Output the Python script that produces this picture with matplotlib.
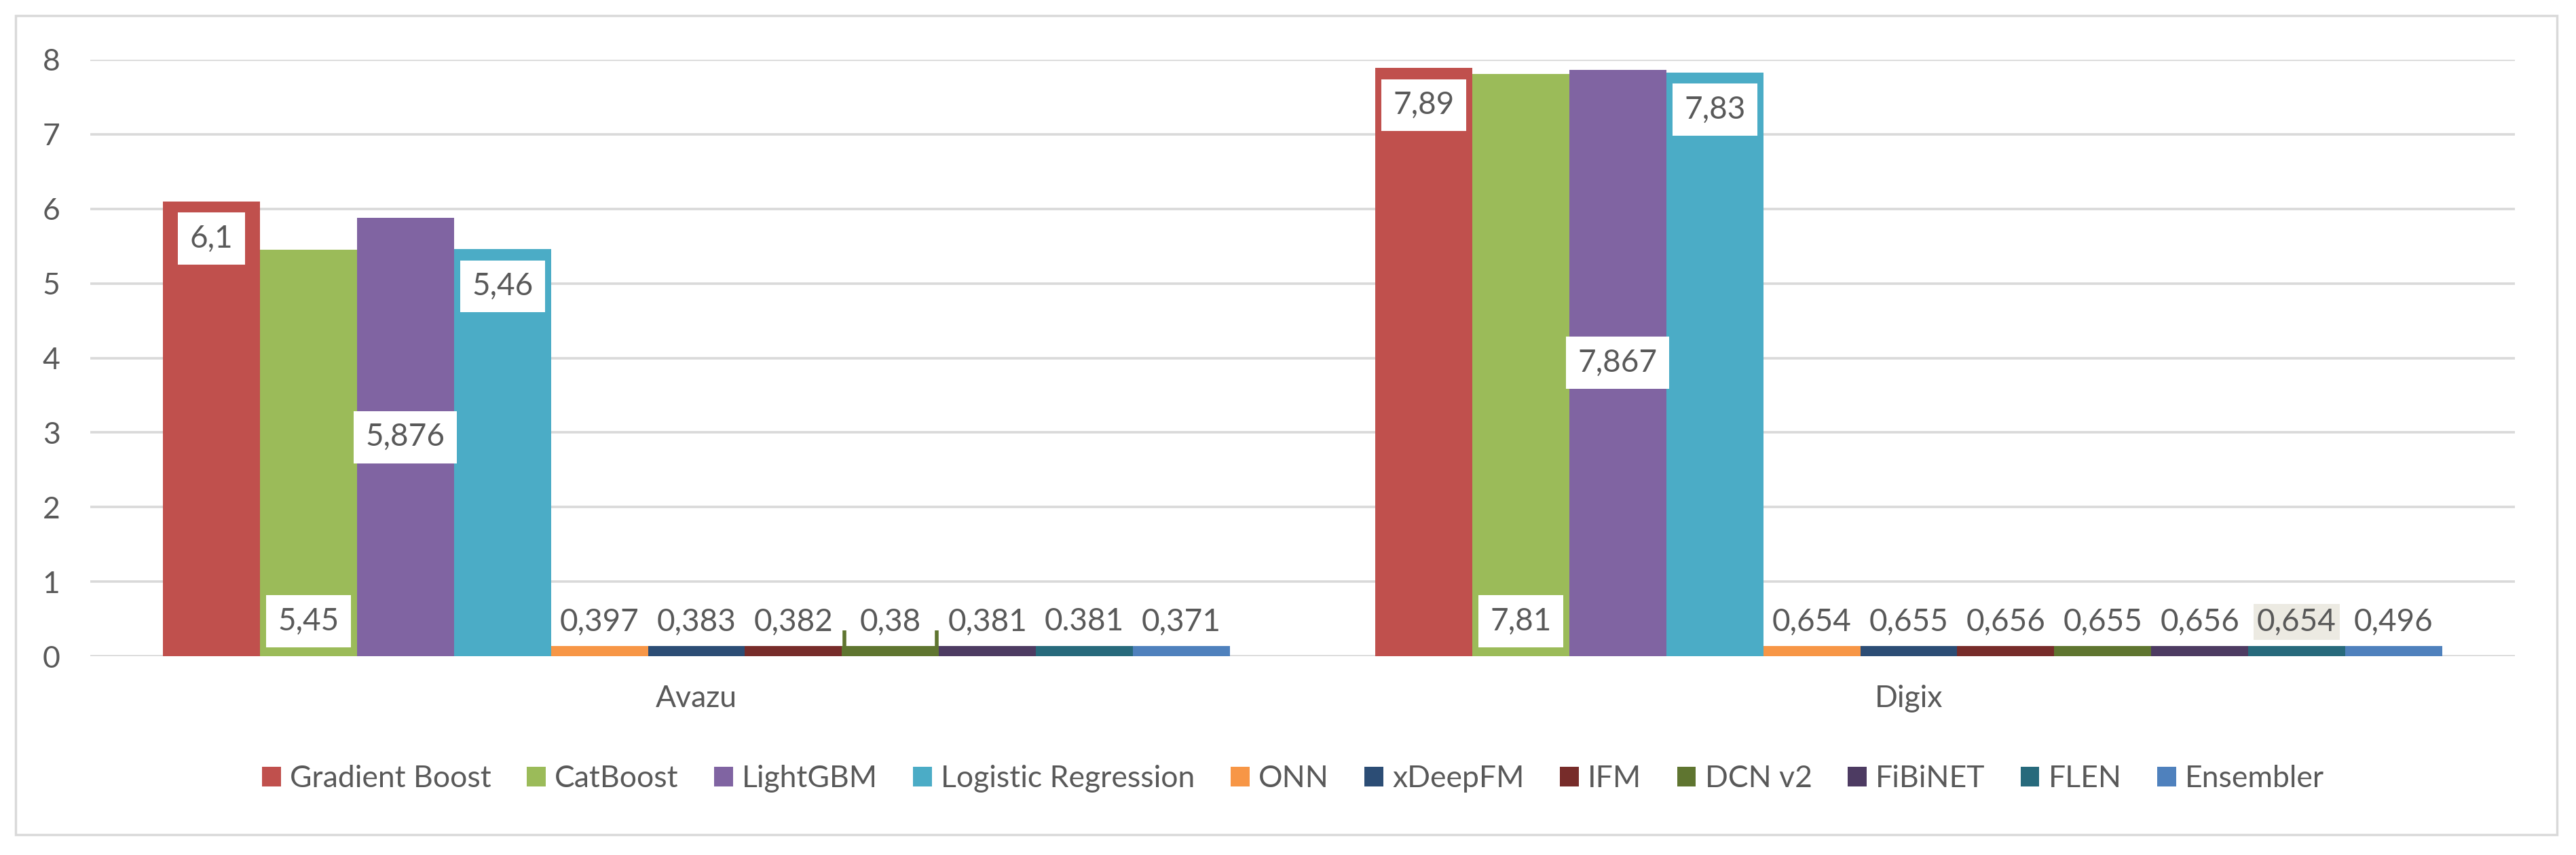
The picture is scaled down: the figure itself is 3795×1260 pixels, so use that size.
import matplotlib.pyplot as plt
from matplotlib.patches import Patch, Rectangle
import numpy as np

plt.rcParams['font.family'] = ['Lato', 'DejaVu Sans']

categories = ['Avazu', 'Digix']
models = ['Gradient Boost', 'CatBoost', 'LightGBM', 'Logistic Regression', 'ONN',
          'xDeepFM', 'IFM', 'DCN v2', 'FiBiNET', 'FLEN', 'Ensembler']
colors = ['#C0504D', '#9BBB59', '#8064A2', '#4BACC6', '#F79646',
          '#2C4D75', '#772C2A', '#5F7530', '#4D3B62', '#276A7C', '#4F81BD']

# heights of the bars as they are drawn in the figure
avazu_heights = [6.1, 5.45, 5.876, 5.46, 0.14, 0.14, 0.14, 0.14, 0.14, 0.14, 0.14]
digix_heights = [7.89, 7.81, 7.867, 7.83, 0.14, 0.14, 0.14, 0.14, 0.14, 0.14, 0.14]
# printed value labels
avazu_labels = ['6,1', '5,45', '5,876', '5,46', '0,397', '0,383', '0,382', '0,38', '0,381', '0.381', '0,371']
digix_labels = ['7,89', '7,81', '7,867', '7,83', '0,654', '0,655', '0,656', '0,655', '0,656', '0,654', '0,496']
# where Excel put each label: end / base / center / above
label_pos = ['end', 'base', 'center', 'end', 'above', 'above', 'above', 'above', 'above', 'above', 'above']
dcn_avazu_edge = 0.35

heights = [avazu_heights, digix_heights]
labels = [avazu_labels, digix_labels]

txt = '#595959'
grid = '#D9D9D9'
W, H = 3795, 1260

fig = plt.figure(figsize=(W / 100, H / 100), dpi=100)
ax = fig.add_axes([133 / W, 1 - 967 / H, (3705 - 133) / W, (967 - 88) / H])

width = 0.08
n = len(models)
for ci in range(len(categories)):
    for i in range(n):
        x = ci + (i - (n - 1) / 2) * width
        h = heights[ci][i]
        ax.bar(x, h, width=width, color=colors[i], zorder=2)
        mode = label_pos[i]
        if mode == 'end':
            y = h - 0.5
        elif mode == 'base':
            y = 0.47
        elif mode == 'center':
            y = h / 2
        else:
            y = 0.46
        fc = 'white'
        if ci == 1 and models[i] == 'FLEN':
            fc = '#ECEAE2'
        if mode == 'above':
            box = dict(boxstyle='square,pad=0.12', fc=fc, ec='none') if fc != 'white' else None
        else:
            box = dict(boxstyle='square,pad=0.38', fc=fc, ec='none')
        ax.text(x, y, labels[ci][i], ha='center', va='center', fontsize=33,
                color=txt, bbox=box, zorder=4)

# odd outline strokes on the Avazu DCN v2 bar
xd = (7 - (n - 1) / 2) * width
ax.vlines([xd - width / 2 + 0.002, xd + width / 2 - 0.002], 0, dcn_avazu_edge,
          color=colors[7], lw=4, zorder=3)

ax.set_xlim(-0.5, 1.5)
ax.set_ylim(0, 8)
ax.set_yticks(range(0, 9))
ax.set_xticks(range(len(categories)))
ax.set_xticklabels(categories)
ax.yaxis.grid(True, color=grid, lw=2.6, zorder=0)
ax.set_axisbelow(True)
for s in ax.spines.values():
    s.set_visible(False)
ax.tick_params(axis='y', length=0, pad=32, labelsize=32, labelcolor=txt)
ax.tick_params(axis='x', length=0, pad=30, labelsize=32, labelcolor=txt)

handles = [Patch(facecolor=c, edgecolor='none', label=m) for m, c in zip(models, colors)]
fig.legend(handles=handles, loc='center', bbox_to_anchor=(0.502, 1 - 1148 / H), ncol=n,
           frameon=False, fontsize=32, labelcolor=txt, handlelength=0.62, handleheight=0.62,
           handletextpad=0.3, columnspacing=1.18)

fig.patches.append(Rectangle((23 / W, 1 - 1230 / H), (3767 - 23) / W, (1230 - 23) / H,
                             transform=fig.transFigure, fill=False, ec=grid, lw=2.5))

fig.savefig('out.png', dpi=100, facecolor='white')
